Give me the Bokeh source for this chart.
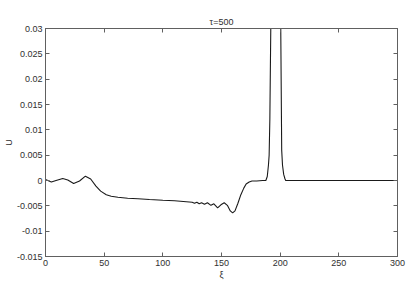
from bokeh.plotting import figure
from bokeh.models import FixedTicker, LinearAxis, Range1d
from bokeh.embed import file_html
from bokeh.resources import INLINE

xi = [0, 2, 5, 9, 14.7, 19, 24, 29, 34, 38.5, 43, 47, 51.8, 56, 61.7, 70, 78.8, 88.6,
      100, 110, 115, 120, 125, 127, 129, 131, 133, 135.5, 138, 141, 143.5, 146.7,
      149.5, 152.3, 155, 157.5, 159.5, 161.5, 164, 166.5, 169, 171, 173.6, 176, 180,
      185, 187.8, 189, 190, 190.6, 191.2, 192, 193, 194.5, 196, 197.5, 199, 200,
      200.5, 201.3, 202, 203, 204, 204.7, 210, 250, 300]
U = [0.0002, 0.0, -0.0003, 0.0000, 0.0004, 0.0001, -0.0006, -0.0001, 0.00085, 0.0003, -0.0011, -0.0021, -0.0028, -0.0031, -0.0033, -0.0035, -0.0036, -0.00375,
     -0.0039, -0.0040, -0.0041, -0.0042, -0.0043, -0.0045, -0.0043, -0.0046, -0.0044, -0.0047, -0.0044, -0.0049, -0.0046, -0.0054,
     -0.0048, -0.0044, -0.0049, -0.0060, -0.0064, -0.0060, -0.0045, -0.0028, -0.0015, -0.0007, -0.0003, -0.0001, -0.0001,
     0.0, 0.0, 0.0008, 0.003, 0.005, 0.012, 0.03, 0.045, 0.058, 0.062, 0.058, 0.045, 0.034,
     0.03, 0.006, 0.003, 0.0012, 0.0004, 0.0, 0.0, 0.0, 0.0]

x_ticks = [0, 50, 100, 150, 200, 250, 300]
y_ticks = [-0.015, -0.01, -0.005, 0, 0.005, 0.01, 0.015, 0.02, 0.025, 0.03]
y_labels = ["-0.015", "-0.01", "-0.005", "0", "0.005", "0.01", "0.015", "0.02", "0.025", "0.03"]

FONT = "Liberation Sans"
AX = "#606060"
TXT = "#303030"

p = figure(width=417, height=284, output_backend="svg", toolbar_location=None,
           x_range=Range1d(0, 300), y_range=Range1d(-0.015, 0.03),
           min_border_left=44, min_border_right=20, min_border_top=28, min_border_bottom=28,
           title="τ=500")
p.title.align = "center"
p.title.text_font = FONT
p.title.text_font_size = "9px"
p.title.text_font_style = "normal"
p.title.text_color = TXT
p.title.offset = 0
p.title.standoff = 4

p.line(xi, U, line_color="#1a1a1a", line_width=1.1)

p.grid.visible = False
p.background_fill_color = "white"
p.border_fill_color = "white"
p.outline_line_color = AX

def style(ax):
    ax.axis_line_color = AX
    ax.major_tick_line_color = AX
    ax.major_tick_in = 4
    ax.major_tick_out = 0
    ax.minor_tick_line_color = None
    ax.major_label_text_font = FONT
    ax.major_label_text_font_size = "9px"
    ax.major_label_text_color = TXT
    ax.axis_label_text_font = FONT
    ax.axis_label_text_font_size = "9px"
    ax.axis_label_text_font_style = "normal"
    ax.axis_label_text_color = TXT

xa = p.xaxis[0]
xa.ticker = FixedTicker(ticks=x_ticks)
xa.axis_label = "ξ"
style(xa)
xa.major_label_standoff = 3
xa.axis_label_standoff = 1

ya = p.yaxis[0]
ya.ticker = FixedTicker(ticks=y_ticks)
ya.major_label_overrides = {t: l for t, l in zip(y_ticks, y_labels)}
ya.axis_label = "U"
style(ya)
ya.major_label_standoff = 3
ya.axis_label_standoff = 0

top = LinearAxis(ticker=FixedTicker(ticks=x_ticks))
style(top)
top.major_label_text_font_size = "0px"
top.major_label_standoff = 0
top.major_label_overrides = {t: "" for t in x_ticks}
p.add_layout(top, "above")
right = LinearAxis(ticker=FixedTicker(ticks=y_ticks))
style(right)
right.major_label_text_font_size = "0px"
right.major_label_standoff = 0
right.major_label_overrides = {t: "" for t in y_ticks}
p.add_layout(right, "right")

open("out.html", "w").write(file_html(p, INLINE))
